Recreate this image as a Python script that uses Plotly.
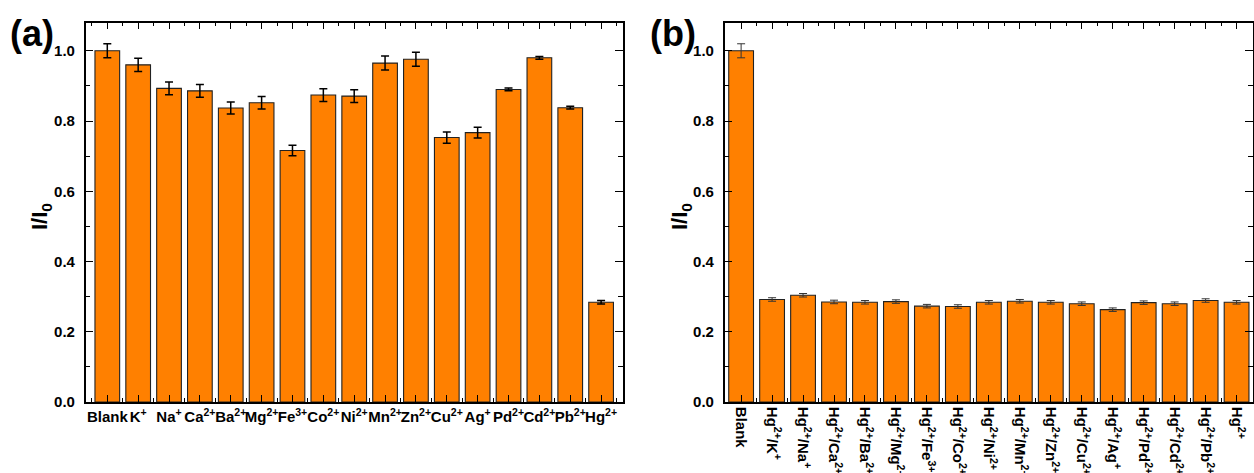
import plotly.graph_objects as go

labels_a = ["Blank", "K<sup>+</sup>", "Na<sup>+</sup>", "Ca<sup>2+</sup>", "Ba<sup>2+</sup>", "Mg<sup>2+</sup>",
            "Fe<sup>3+</sup>", "Co<sup>2+</sup>", "Ni<sup>2+</sup>", "Mn<sup>2+</sup>", "Zn<sup>2+</sup>",
            "Cu<sup>2+</sup>", "Ag<sup>+</sup>", "Pd<sup>2+</sup>", "Cd<sup>2+</sup>", "Pb<sup>2+</sup>", "Hg<sup>2+</sup>"]
values_a = [1.000, 0.960, 0.893, 0.886, 0.837, 0.852, 0.716, 0.874, 0.871, 0.965, 0.976,
            0.753, 0.767, 0.890, 0.980, 0.838, 0.284]
errors_a = [0.020, 0.019, 0.018, 0.018, 0.017, 0.018, 0.015, 0.018, 0.018, 0.020, 0.020,
            0.016, 0.015, 0.004, 0.004, 0.004, 0.005]

labels_b = ["Blank", "Hg<sup>2+</sup>/K<sup>+</sup>", "Hg<sup>2+</sup>/Na<sup>+</sup>", "Hg<sup>2+</sup>/Ca<sup>2+</sup>",
            "Hg<sup>2+</sup>/Ba<sup>2+</sup>", "Hg<sup>2+</sup>/Mg<sup>2+</sup>", "Hg<sup>2+</sup>/Fe<sup>3+</sup>",
            "Hg<sup>2+</sup>/Co<sup>2+</sup>", "Hg<sup>2+</sup>/Ni<sup>2+</sup>", "Hg<sup>2+</sup>/Mn<sup>2+</sup>",
            "Hg<sup>2+</sup>/Zn<sup>2+</sup>", "Hg<sup>2+</sup>/Cu<sup>2+</sup>", "Hg<sup>2+</sup>/Ag<sup>+</sup>",
            "Hg<sup>2+</sup>/Pd<sup>2+</sup>", "Hg<sup>2+</sup>/Cd<sup>2+</sup>", "Hg<sup>2+</sup>/Pb<sup>2+</sup>",
            "Hg<sup>2+</sup>"]
values_b = [1.000, 0.292, 0.304, 0.285, 0.284, 0.286, 0.273, 0.272, 0.284, 0.287, 0.284,
            0.280, 0.263, 0.283, 0.280, 0.289, 0.284]
errors_b = [0.020, 0.005, 0.005, 0.005, 0.005, 0.005, 0.005, 0.005, 0.005, 0.005, 0.005,
            0.005, 0.005, 0.005, 0.005, 0.005, 0.005]

ORANGE = "#FF8000"
FONT = "Liberation Sans, Arial, sans-serif"
W, H = 1254, 473

fig = go.Figure()
xa = list(range(len(labels_a)))
xb = list(range(len(labels_b)))

fig.add_trace(go.Bar(x=xa, y=values_a, width=0.8, marker=dict(color=ORANGE, line=dict(color="#222", width=1.1)),
                     error_y=dict(type="data", array=errors_a, color="black", thickness=1.5, width=4),
                     xaxis="x", yaxis="y", showlegend=False))
fig.add_trace(go.Bar(x=xb, y=values_b, width=0.8, marker=dict(color=ORANGE, line=dict(color="#222", width=1.1)),
                     error_y=dict(type="data", array=errors_b, color="#333", thickness=1, width=4),
                     xaxis="x2", yaxis="y2", showlegend=False))

tickfont = dict(family=FONT, size=15, color="black", weight="bold")

def xaxis_cfg(domain, n, labels, rng, angle, anchor):
    return dict(domain=domain, range=rng, tickmode="array", tickvals=list(range(n)), ticktext=labels,
                tickangle=angle, ticks="inside", ticklen=7, tickwidth=1.2, tickcolor="black",
                showline=True, linecolor="black", linewidth=1.5, mirror="allticks", showgrid=False,
                zeroline=False, tickfont=tickfont, anchor=anchor, automargin=False,
                minor=dict(tickmode="array", tickvals=[i + 0.5 for i in range(-1, n)], ticks="inside",
                           ticklen=4, tickwidth=1.2, tickcolor="black"))

def yaxis_cfg(anchor):
    return dict(domain=[0.150, 0.952], range=[0, 1.08], tickmode="array", tickvals=[0, 0.2, 0.4, 0.6, 0.8, 1.0],
                ticktext=["0.0", "0.2", "0.4", "0.6", "0.8", "1.0"], ticks="inside", ticklen=8, tickwidth=1.2,
                tickcolor="black", showline=True, linecolor="black", linewidth=1.5, mirror="allticks",
                showgrid=False, zeroline=False, tickfont=tickfont, anchor=anchor, ticklabelstandoff=6,
                automargin=False,
                minor=dict(tickmode="array", tickvals=[0.1, 0.3, 0.5, 0.7, 0.9], ticks="inside", ticklen=5,
                           tickwidth=1.2, tickcolor="black"))

def px_ann(text, x, y, size, angle=0, xanchor="center"):
    return dict(text=text, x=x / W, y=1 - y / H, xref="paper", yref="paper", showarrow=False,
                textangle=angle, font=dict(family=FONT, size=size, color="black"),
                xanchor=xanchor, yanchor="middle")

fig.update_layout(
    width=W, height=H, margin=dict(l=0, r=0, t=0, b=0, autoexpand=False),
    paper_bgcolor="white", plot_bgcolor="white", bargap=0.2,
    xaxis=xaxis_cfg([85.7 / W, 622.7 / W], len(labels_a), labels_a, [-0.7, 16.7], 0, "y"),
    yaxis=yaxis_cfg("x"),
    xaxis2=xaxis_cfg([724.7 / W, 1253 / W], len(labels_b), labels_b, [-0.53, 16.53], 90, "y2"),
    yaxis2=yaxis_cfg("x2"),
    annotations=[
        px_ann("<b>(a)</b>", 8, 33, 36, xanchor="left"),
        px_ann("<b>(b)</b>", 648, 33, 36, xanchor="left"),
        px_ann("<b>I/I<sub>0</sub></b>", 41, 217, 22, angle=-90),
        px_ann("<b>I/I<sub>0</sub></b>", 681, 217, 22, angle=-90),
    ],
)

fig.write_html("out.html", config={"displayModeBar": False},
               post_script="document.body.style.margin='0';document.body.style.overflow='hidden';")
